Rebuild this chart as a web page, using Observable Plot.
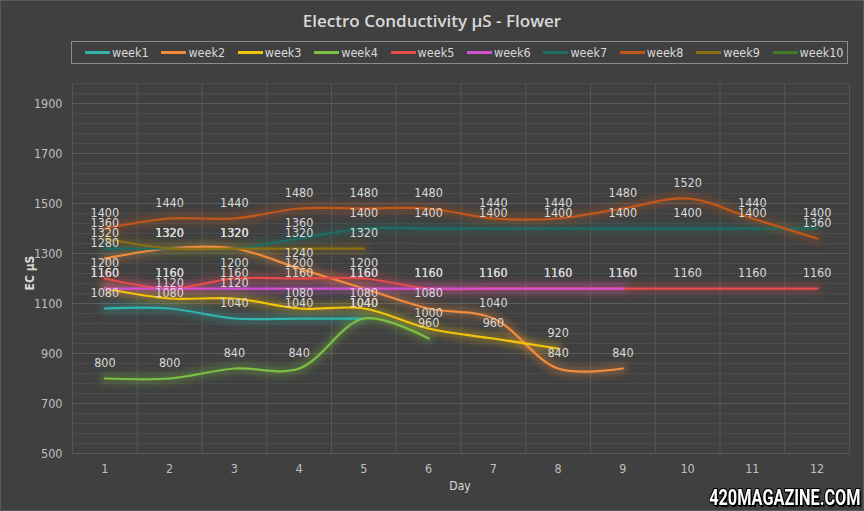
<!DOCTYPE html>
<html><head><meta charset="utf-8">
<script src="https://cdn.jsdelivr.net/npm/d3@7"></script>
<script src="https://cdn.jsdelivr.net/npm/@observablehq/plot@0.6"></script>
<style>
html,body{margin:0;padding:0;}
body{background:#404040;width:864px;height:511px;overflow:hidden;position:relative;font-family:"DejaVu Sans Condensed","Roboto",sans-serif;}
#frame{position:absolute;left:0;top:0;width:862px;height:509px;border:1px solid #5a5a5a;}
#title{position:absolute;left:0;width:864px;top:9px;text-align:center;color:#d9d9d9;font:600 17px "Open Sans",sans-serif;}
#legend{position:absolute;left:71px;top:41px;width:775px;height:21px;border:1px solid #8c8c8c;}
.item{position:absolute;top:0;height:21px;line-height:21px;color:#d9d9d9;font-size:12.5px;white-space:nowrap;}
.sw{display:inline-block;width:25px;height:2.5px;vertical-align:middle;margin-right:2px;position:relative;top:-1px;}
#chart{position:absolute;left:0;top:70px;}
#xlab{position:absolute;top:479px;left:440px;width:40px;text-align:center;color:#d9d9d9;font-size:12px;}
#ylab{position:absolute;left:30px;top:273px;color:#d9d9d9;font-size:12px;font-weight:bold;transform:translate(-50%,-50%) rotate(-90deg);white-space:nowrap;}
#wm{position:absolute;right:3px;bottom:1px;color:#fff;font:bold 22px "Roboto",sans-serif;transform:scaleX(0.74);transform-origin:right bottom;text-shadow:1px 1px 0 #000,-1px -1px 0 #000,1px -1px 0 #000,-1px 1px 0 #000,2px 2px 1px #000;}
</style>
</head><body>
<div id="frame"></div>
<div id="title">Electro Conductivity µS - Flower</div>
<div id="legend"></div>
<div id="chart"></div>
<div id="xlab">Day</div>
<div id="ylab">EC µS</div>
<div id="wm">420MAGAZINE.COM</div>
<script>
const days = [1,2,3,4,5,6,7,8,9,10,11,12];
const seriesNames = ["week1","week2","week3","week4","week5","week6","week7","week8","week9","week10"];
const seriesColors = ["#2fb3ac","#f08c3c","#f2c40c","#7cc043","#e64b4b","#d250d0","#1c6e64","#c2571b","#8d6e12","#3f7b24"];
const yTicks = [500,700,900,1100,1300,1500,1700,1900];

const week1 = [1080,1080,1040,1040,1040];
const week2 = [1280,1320,1320,1240,1160,1080,1040,840,840];
const week3 = [1160,1120,1120,1080,1080,1000,960,920];
const week4 = [800,800,840,840,1040,960];
const week5 = [1200,1160,1200,1200,1200,1160,1160,1160,1160,1160,1160,1160];
const week6 = [1160,1160,1160,1160,1160,1160,1160,1160,1160];
const week7 = [1320,1320,1320,1360,1400,1400,1400,1400,1400,1400,1400,1400];
const week8 = [1400,1440,1440,1480,1480,1480,1440,1440,1480,1520,1440,1360];
const week9 = [1360,1320,1320,1320,1320];
const week10 = [];

const seriesValues = [week1,week2,week3,week4,week5,week6,week7,week8,week9,week10];
const data = [];
seriesValues.forEach((vals, i) => vals.forEach((v, j) => data.push({series: seriesNames[i], day: days[j], value: v})));

// legend
const legend = document.getElementById("legend");
seriesNames.forEach((name, i) => {
  const it = document.createElement("div");
  it.className = "item";
  it.style.left = (13 + i * 76.4) + "px";
  it.innerHTML = `<span class="sw" style="background:${seriesColors[i]}"></span>${name}`;
  legend.appendChild(it);
});

const minor = d3.range(500, 1981, 40);
const edges = d3.range(0.5, 12.6, 1);

const chart = Plot.plot({
  width: 864, height: 441,
  marginTop: 13, marginBottom: 58, marginLeft: 72, marginRight: 15,
  style: {background: "transparent", color: "#bfbfbf", fontFamily: '"DejaVu Sans Condensed", Roboto, sans-serif', fontSize: "12.5px"},
  x: {domain: [0.5, 12.5], ticks: days, tickFormat: d => String(d), tickSize: 0, tickPadding: 11, label: null},
  y: {domain: [500, 1980], ticks: yTicks, tickFormat: d => String(d), tickSize: 0, tickPadding: 10, label: null},
  color: {domain: seriesNames, range: seriesColors},
  marks: [
    Plot.ruleY(minor, {stroke: "#4b4b4b", strokeWidth: 1}),
    Plot.ruleY(yTicks, {stroke: "#5c5c5c", strokeWidth: 1}),
    Plot.ruleX(edges, {stroke: "#565656", strokeWidth: 1}),
    Plot.line(data, {x: "day", y: "value", z: "series", stroke: "series", strokeWidth: 10, strokeOpacity: 0.3, curve: "catmull-rom", ariaDescription: "glow"}),
    Plot.line(data, {x: "day", y: "value", z: "series", stroke: "series", strokeWidth: 2.25, curve: "catmull-rom"}),
    Plot.text(data, {x: "day", y: "value", text: d => String(d.value), dy: -16, fill: "#d9d9d9", fontSize: 12.5})
  ]
});
d3.select(chart).selectAll('g[aria-description="glow"]').style("filter", "blur(3.5px)");
document.getElementById("chart").appendChild(chart);
</script>
</body></html>
